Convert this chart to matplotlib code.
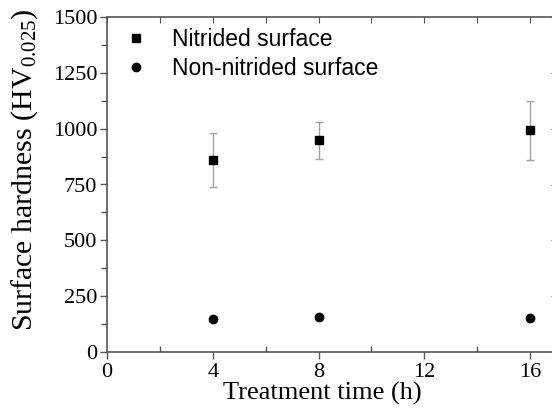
import numpy as np
import matplotlib
matplotlib.use('Agg')
from matplotlib import pyplot as plt
from matplotlib.lines import Line2D
from matplotlib.ticker import MultipleLocator

# treatment time (h)
times = [4, 8, 16]
nitrided = [860, 948, 993]
nitrided_err = [120, 83, 133]
non_nitrided = [148, 158, 151]
non_nitrided_err = [6, 8, 6]

plt.rcParams['font.family'] = 'Liberation Serif'
plt.rcParams['mathtext.fontset'] = 'custom'
plt.rcParams['mathtext.rm'] = 'Liberation Serif'
plt.rcParams['mathtext.it'] = 'Liberation Serif:italic'

fig = plt.figure(figsize=(5.52, 4.15), dpi=100)
ax = fig.add_axes([107 / 552, 1 - 352 / 415, 449.5 / 552, 335 / 415])

ax.errorbar(times, nitrided, yerr=nitrided_err, fmt='s', color='black',
        ms=5.5, ecolor='#a0a0a0', elinewidth=1, capsize=3, capthick=1)
ax.errorbar(times, non_nitrided, yerr=non_nitrided_err, fmt='o', color='black',
        ms=6, ecolor='#a0a0a0', elinewidth=1, capsize=3, capthick=1)

ax.set_xlim(0, 17)
ax.set_ylim(0, 1500)
ax.xaxis.set_major_locator(MultipleLocator(4))
ax.xaxis.set_minor_locator(MultipleLocator(2))
ax.yaxis.set_major_locator(MultipleLocator(250))
ax.yaxis.set_minor_locator(MultipleLocator(125))

for s in ax.spines.values():
    s.set_color('#555555')
    s.set_linewidth(1.2)

ax.tick_params(axis='both', which='both', colors='#555555', labelcolor='black',
        labelsize=16, width=1)
ax.tick_params(axis='x', which='major', direction='out', length=5, pad=3)
ax.tick_params(axis='x', which='minor', direction='in', length=4)
ax.tick_params(axis='y', which='major', direction='out', length=5, pad=2)
ax.tick_params(axis='y', which='minor', direction='out', length=4)

# top and right ticks point inward
sec_x = ax.secondary_xaxis('top')
sec_x.xaxis.set_major_locator(MultipleLocator(2))
sec_x.tick_params(direction='in', length=4, colors='#555555', labeltop=False)
sec_x.spines['top'].set_visible(False)
sec_y = ax.secondary_yaxis('right')
sec_y.yaxis.set_major_locator(MultipleLocator(250))
sec_y.tick_params(direction='in', length=4, colors='#555555', labelright=False)
sec_y.spines['right'].set_visible(False)

ax.set_xlabel('Treatment time (h)', fontsize=19)
ax.xaxis.set_label_coords(0.478, -0.088)
ax.set_ylabel(r'Surface hardness (HV$_{0.025}$)', fontsize=21.5)
ax.yaxis.set_label_coords(-0.148, 0.543)

handles = [Line2D([], [], ls='none', marker='s', color='black', ms=5.5),
        Line2D([], [], ls='none', marker='o', color='black', ms=6)]
ax.legend(handles, ['Nitrided surface', 'Non-nitrided surface'],
        loc='upper left', frameon=False,
        prop={'family': 'Liberation Sans', 'size': 16.5},
        handletextpad=1.0, labelspacing=0.28, borderaxespad=0.3,
        borderpad=0.1, handlelength=1.1, bbox_to_anchor=(0.017, 0.995))

plt.savefig('out.png', dpi=100)
